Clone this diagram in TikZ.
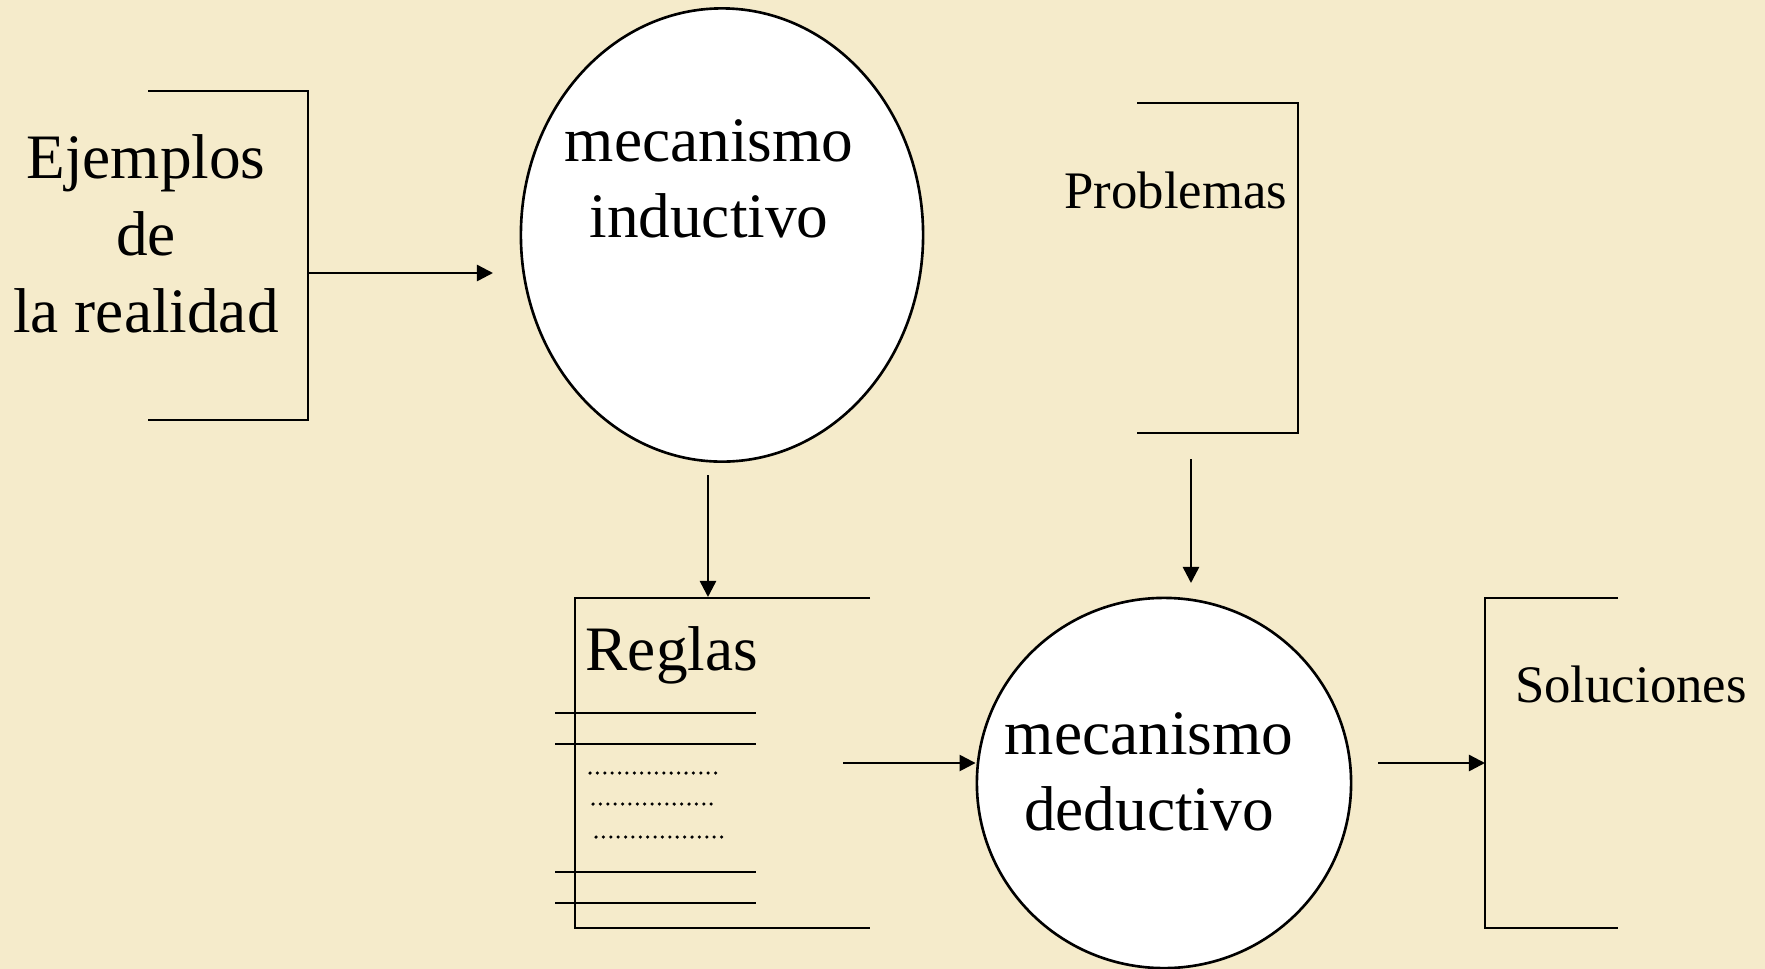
\documentclass[tikz,border=0pt]{standalone}
\usepackage{fontspec}
\setmainfont{Liberation Serif}
\usetikzlibrary{arrows.meta,shapes.geometric}
\definecolor{pergamino}{RGB}{245,235,203}
\tikzset{
  flecha/.style={-{Triangle[length=1.6mm,width=1.6mm]}, line width=0.7pt},
  marco/.style={line width=0.8pt},
  mecanismo/.style={ellipse, draw, fill=white, line width=0.75pt, inner sep=0pt},
  grande/.style={font=\fontsize{18}{21.8}\selectfont, align=center, inner sep=0pt},
  chico/.style={font=\fontsize{15}{18}\selectfont, inner sep=0pt},
  regla/.style={line width=0.65pt},
  puntos/.style={line width=1pt, line cap=round, dash pattern=on 0pt off 2.1pt}
}
\begin{document}
\begin{tikzpicture}[x=0.01cm,y=-0.01cm]
% Fondo
\fill[pergamino] (0,0) rectangle (1765,969);
\useasboundingbox (0,0) rectangle (1765,969);
% Ejemplos de la realidad
\draw[marco] (148,91) -- (308,91) -- (308,420) -- (148,420);
\node[grande] (ejemplos) at (146,234) {Ejemplos\\de\\la realidad};
\coordinate (ejsal) at (308,273);
\coordinate (indent) at (493,273);
\draw[flecha] (ejsal) -- (indent);
% Mecanismo inductivo
\node[mecanismo, minimum width=4.02cm, minimum height=4.53cm] (induct) at (722,235) {};
\node[grande] (inductxt) at (709,179) {mecanismo\\inductivo};
\coordinate (indsal) at (708,475);
\coordinate (reglent) at (708,597);
\draw[flecha] (indsal) -- (reglent);
% Reglas
\draw[marco] (870,598) -- (575,598) -- (575,928) -- (870,928);
\node[grande, anchor=base west] (reglas) at (585,670) {Reglas};
\foreach \y in {713,744,872,903}
  \draw[regla] (555,\y) -- (756,\y);
\draw[puntos] (590,773) -- (722,773);
\draw[puntos] (593,804) -- (718,804);
\draw[puntos] (596,837) -- (722,837);
\coordinate (reglsal) at (843,763);
% Problemas
\draw[marco] (1137,103) -- (1298,103) -- (1298,433) -- (1137,433);
\node[chico] (problemas) at (1176,190) {Problemas};
\coordinate (probsal) at (1191,459);
\coordinate (dedent) at (1191,583);
\draw[flecha] (probsal) -- (dedent);
% Mecanismo deductivo
\node[mecanismo, minimum width=3.74cm, minimum height=3.70cm] (deduct) at (1164,783) {};
\node[grande] (deductxt) at (1149,772) {mecanismo\\deductivo};
\draw[flecha] (reglsal) -- (deduct.west |- reglsal);
\coordinate (dedsal) at (1378,763);
\coordinate (solent) at (1485,763);
\draw[flecha] (dedsal) -- (solent);
% Soluciones
\draw[marco] (1618,598) -- (1485,598) -- (1485,928) -- (1618,928);
\node[chico] (soluciones) at (1631,684) {Soluciones};
\end{tikzpicture}
\end{document}
